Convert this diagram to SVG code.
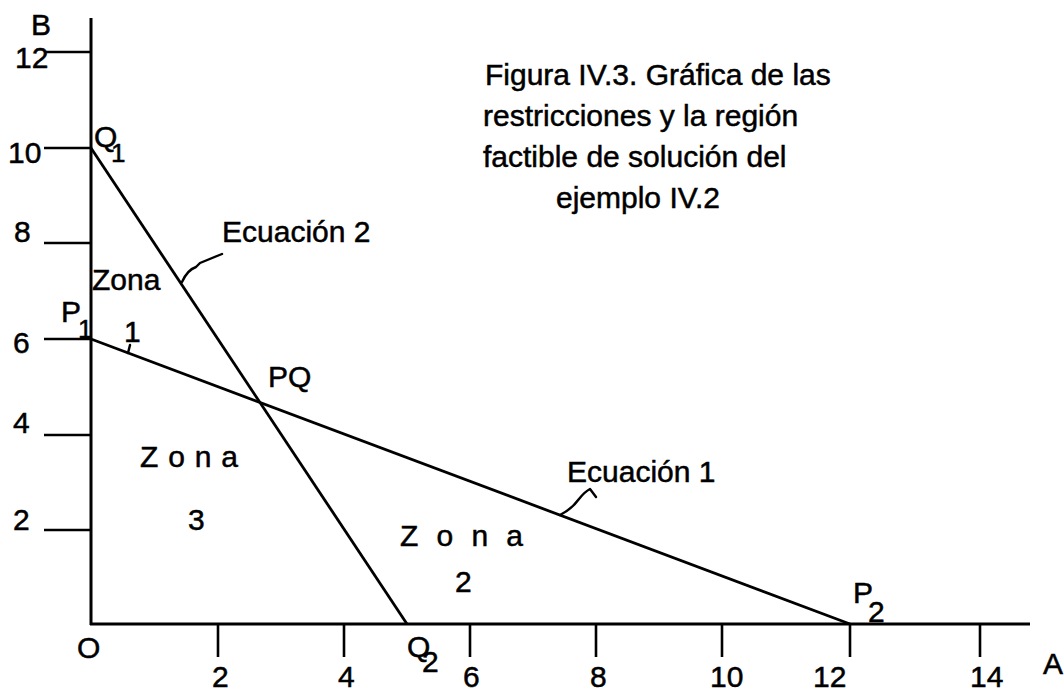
<svg xmlns="http://www.w3.org/2000/svg" width="1064" height="690" viewBox="0 0 1064 690">
<style>
text{font-family:"Liberation Sans",Arial,sans-serif;font-size:30px;fill:#000;stroke:#000;stroke-width:0.5}
.ax{stroke:#000;stroke-width:3;fill:none}
.tk{stroke:#000;stroke-width:2.6;fill:none}
.ln{stroke:#000;stroke-width:2.8;fill:none}
.ld{stroke:#000;stroke-width:2.4;fill:none;stroke-linecap:round;stroke-linejoin:round}
.sub{font-size:26px}
</style>
<rect width="1064" height="690" fill="#fff"/>
<g id="axes">
<line class="ax" x1="91" y1="18" x2="91" y2="625"/>
<line class="ax" x1="90" y1="624" x2="1030" y2="624"/>
<line class="tk" x1="45" y1="52" x2="91" y2="52"/>
<line class="tk" x1="44" y1="148" x2="91" y2="148"/>
<line class="tk" x1="44" y1="243" x2="91" y2="243"/>
<line class="tk" x1="44" y1="339" x2="91" y2="339"/>
<line class="tk" x1="44" y1="435" x2="91" y2="435"/>
<line class="tk" x1="44" y1="530" x2="91" y2="530"/>
<line class="tk" x1="218" y1="624" x2="218" y2="657"/>
<line class="tk" x1="344" y1="624" x2="344" y2="657"/>
<line class="tk" x1="470" y1="624" x2="470" y2="657"/>
<line class="tk" x1="596" y1="624" x2="596" y2="657"/>
<line class="tk" x1="722" y1="624" x2="722" y2="657"/>
<line class="tk" x1="850" y1="624" x2="850" y2="657"/>
<line class="tk" x1="980" y1="624" x2="980" y2="657"/>
<text x="31" y="35">B</text>
<text x="15" y="68">12</text>
<text x="8" y="163">10</text>
<text x="14" y="242">8</text>
<text x="13" y="353">6</text>
<text x="13" y="433">4</text>
<text x="13" y="530">2</text>
<text x="77" y="658">O</text>
<text x="212" y="687">2</text>
<text x="338" y="687">4</text>
<text x="463" y="687">6</text>
<text x="590" y="687">8</text>
<text x="710" y="687">10</text>
<text x="813" y="687">12</text>
<text x="970" y="687">14</text>
<text x="1043" y="674">A</text>
</g>
<g id="connectors">
<line id="ecuacion1" class="ln" x1="91" y1="339" x2="850" y2="624"/>
<line id="ecuacion2" class="ln" x1="91" y1="148" x2="407" y2="624"/>
<path class="ld" d="M182,282 C186,273 190,269 196,267 L200,263 L222,254"/>
<path class="ld" d="M560,515 C568,511 574,506 579,499 C583,494 586,491 590,489 L596,497"/>
<path class="ld" d="M128,353 L130,345"/>
</g>
<g id="title">
<text x="485" y="85">Figura IV.3. Gráfica de las</text>
<text x="483" y="126">restricciones y la región</text>
<text x="483" y="167">factible de solución del</text>
<text x="556" y="208">ejemplo IV.2</text>
</g>
<g id="point-Q1"><text x="94" y="147">Q<tspan class="sub" x="111" y="162">1</tspan></text></g>
<g id="point-P1"><text x="61" y="322">P<tspan class="sub" x="78" y="338">1</tspan></text></g>
<g id="point-PQ"><text x="268" y="387">PQ</text></g>
<g id="point-Q2"><text x="407" y="657">Q<tspan x="422" y="672">2</tspan></text></g>
<g id="point-P2"><text x="853" y="603">P<tspan x="868" y="622">2</tspan></text></g>
<g id="label-ecuacion2"><text x="222" y="242">Ecuación 2</text></g>
<g id="label-ecuacion1"><text x="567" y="482">Ecuación 1</text></g>
<g id="zona1"><text x="92" y="290">Zona</text><text x="124" y="342">1</text></g>
<g id="zona3"><text x="140" y="467" textLength="98" lengthAdjust="spacing">Z o n a</text><text x="188" y="530">3</text></g>
<g id="zona2"><text x="400" y="546" textLength="123" lengthAdjust="spacing">Z o n a</text><text x="455" y="592">2</text></g>
</svg>
